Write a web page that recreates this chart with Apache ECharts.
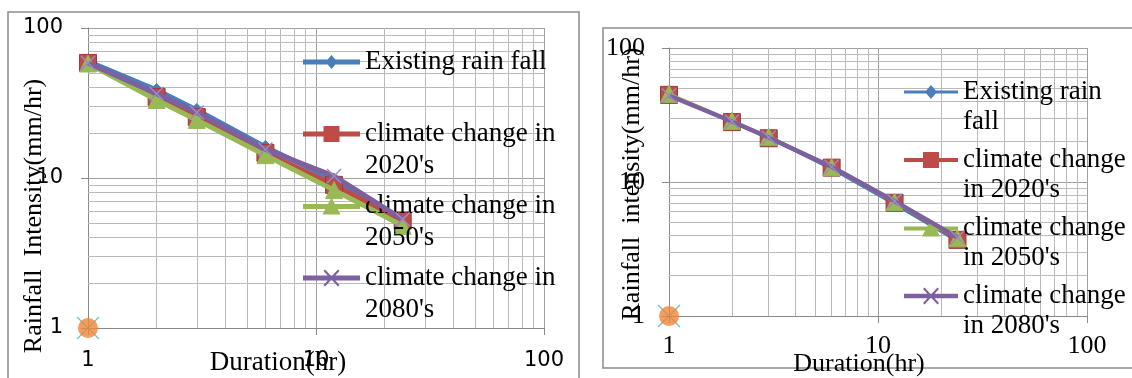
<!DOCTYPE html>
<html>
<head>
    <meta charset="utf-8">
    <title>Rainfall intensity - duration curves</title>
    <script src="https://cdn.jsdelivr.net/npm/echarts@6/dist/echarts.min.js"></script>
</head>
<body style="margin:0;background:#fff;">
    <div id="main" style="width:1132px;height:378px;"></div>
    <script type="text/javascript">
        // durations (hr) shared by both panels
        var durations = [1, 2, 3, 6, 12, 24];
        var minorTicks = [2, 3, 4, 5, 6, 7, 8, 9, 20, 30, 40, 50, 60, 70, 80, 90];
        var seriesNames = ['Existing rain fall', "climate change in 2020's", "climate change in 2050's", "climate change in 2080's"];

        // left panel intensities (mm/hr)
        var leftExisting = [60, 38.6, 28.4, 16.1, 9.7, 5.0];
        var left2020 = [58.5, 34.7, 25.5, 14.7, 9.0, 5.2];
        var left2050 = [58, 33.1, 24.4, 14.2, 8.3, 4.8];
        var left2080 = [58.5, 36.5, 27.3, 15.5, 10.3, 5.3];

        // right panel intensities (mm/hr)
        var rightExisting = [44.5, 28.3, 21.3, 12.5, 6.8, 3.6];
        var right2020 = [44.7, 28.0, 21.2, 12.8, 7.0, 3.7];
        var right2050 = [45.5, 28.6, 21.8, 12.9, 7.1, 3.8];
        var right2080 = [44.2, 28.3, 21.5, 13.0, 7.2, 3.85];

        // the stray point at (1, 1)
        var strayPoint = [[1, 1]];

        var leftLegendText = ['\nExisting rain fall\n', "\nclimate change in\n2020's", "\nclimate change in\n2050's", "\nclimate change in\n2080's"];
        var rightLegendText = ['\nExisting rain\nfall', "\nclimate change\nin 2020's", "\nclimate change\nin 2050's", "\nclimate change\nin 2080's"];

        var colors = ['#4a7ebb', '#be4b48', '#98b954', '#7d60a0'];
        var symbols = ['diamond', 'rect', 'triangle', 'path://M0,0L10,10M10,0L0,10'];
        var serif = '"Liberation Serif", "Times New Roman", serif';

        var dom = document.getElementById('main');
        var myChart = echarts.init(dom, null, { renderer: 'canvas' });

        function pairs(vals) {
            return durations.map(function (d, i) { return [d, vals[i]]; });
        }

        // legend icon: a line segment with the marker in the middle, in a w x 18 box
        function iconPath(w, lw, kind) {
            var c = w / 2;
            var p = 'path://M0,' + (9 - lw / 2) + 'H' + w + 'V' + (9 + lw / 2) + 'H0Z';
            if (kind === 0) {
                p += 'M' + c + ',2L' + (c + 6) + ',9L' + c + ',16L' + (c - 6) + ',9Z';
            } else if (kind === 1) {
                p += 'M' + (c - 8) + ',1H' + (c + 8) + 'V17H' + (c - 8) + 'Z';
            } else if (kind === 2) {
                p += 'M' + c + ',0L' + (c + 9) + ',17L' + (c - 9) + ',17Z';
            } else {
                p += 'M' + (c - 8) + ',2L' + (c - 6.5) + ',0.5L' + (c + 8) + ',16L' + (c + 6.5) + ',17.5Z';
                p += 'M' + (c + 6.5) + ',0.5L' + (c + 8) + ',2L' + (c - 6.5) + ',17.5L' + (c - 8) + ',16Z';
            }
            return p;
        }

        function makeLines(panel, valuesList, widths, suffix) {
            return valuesList.map(function (vals, i) {
                var isCross = i === 3;
                return {
                    name: seriesNames[i] + suffix,
                    type: 'line',
                    xAxisIndex: panel,
                    yAxisIndex: panel,
                    data: pairs(vals),
                    symbol: symbols[i],
                    symbolSize: isCross ? 14 : (i === 0 ? 13 : 17),
                    lineStyle: { color: colors[i], width: widths[i] },
                    itemStyle: isCross ? {
                        color: colors[i],
                        borderColor: '#9d89c0',
                        borderWidth: 1.5
                    } : {
                        color: colors[i],
                        borderColor: i === 1 ? '#9b3b39' : colors[i],
                        borderWidth: 1
                    },
                    emphasis: { disabled: true },
                    z: 3 + i
                };
            });
        }

        function gridLines(panel) {
            // cyan cross at (1,1) carries the minor log grid lines
            return {
                name: 'cross' + panel,
                type: 'scatter',
                xAxisIndex: panel,
                yAxisIndex: panel,
                data: strayPoint,
                symbol: 'path://M0,0L10,10M10,0L0,10',
                symbolSize: 22,
                itemStyle: { color: '#4bacc6', borderColor: '#4bacc6', borderWidth: 1.2 },
                z: 2,
                markLine: {
                    silent: true,
                    z: 1,
                    symbol: ['none', 'none'],
                    label: { show: false },
                    lineStyle: { color: '#bababa', width: 1, type: 'solid' },
                    emphasis: { disabled: true },
                    animation: false,
                    data: minorTicks.map(function (v) { return { xAxis: v }; })
                        .concat(minorTicks.map(function (v) { return { yAxis: v }; }))
                }
            };
        }

        function dot(panel) {
            return {
                name: 'dot' + panel,
                type: 'scatter',
                xAxisIndex: panel,
                yAxisIndex: panel,
                data: strayPoint,
                symbol: 'circle',
                symbolSize: 20,
                itemStyle: { color: '#ef8636' },
                z: 8
            };
        }

        function logAxis(panel, font, size, margin) {
            return {
                type: 'log',
                logBase: 10,
                gridIndex: panel,
                min: 1,
                max: 100,
                axisLine: { show: true, lineStyle: { color: '#8a8a8a', width: 1 } },
                axisTick: { show: true, inside: false, length: 7, lineStyle: { color: '#8a8a8a' } },
                splitLine: { show: true, lineStyle: { color: '#a0a0a0', width: 1 } },
                axisLabel: { color: '#000', fontFamily: font, fontSize: size, margin: margin }
            };
        }

        var series = [];
        series.push(gridLines(0));
        series = series.concat(makeLines(0, [leftExisting, left2020, left2050, left2080], [5, 5, 5, 5], ''));
        series.push(dot(0));
        series.push(gridLines(1));
        series = series.concat(makeLines(1, [rightExisting, right2020, right2050, right2080], [2.5, 2.5, 3, 4.5], ' '));
        series.push(dot(1));

        function legendFor(left, top, itemWidth, gap, lineHeight, texts, suffix, widths) {
            return {
                show: true,
                orient: 'vertical',
                left: left,
                top: top,
                padding: 0,
                z: 6,
                itemWidth: itemWidth,
                itemHeight: 18,
                itemGap: gap,
                selectedMode: false,
                data: seriesNames.map(function (n, i) {
                    return {
                        name: n + suffix,
                        icon: iconPath(itemWidth, widths[i], i),
                        itemStyle: { color: colors[i], borderWidth: 0 }
                    };
                }),
                formatter: function (name) {
                    return texts[seriesNames.indexOf(name.trim())];
                },
                textStyle: { color: '#000', fontFamily: serif, fontSize: 27, lineHeight: lineHeight }
            };
        }

        var titleStyle = function (text, size) {
            return { text: text, fontFamily: serif, fontSize: size, fill: '#000', align: 'center', verticalAlign: 'middle' };
        };

        var option = {
            animation: false,
            backgroundColor: '#fff',
            grid: [
                { left: 88, top: 28, width: 456, height: 300 },
                { left: 669, top: 48, width: 418, height: 268 }
            ],
            xAxis: [
                logAxis(0, '"DejaVu Sans", sans-serif', 21, 22),
                logAxis(1, serif, 26, 17)
            ],
            yAxis: [
                logAxis(0, '"DejaVu Sans", sans-serif', 21, 25),
                logAxis(1, serif, 26, 24)
            ],
            legend: [
                legendFor(303, 14, 57, -24, 32, leftLegendText, '', [5, 5, 5, 5]),
                legendFor(904, 47, 54, -22, 30, rightLegendText, ' ', [3, 4, 4, 4.5])
            ],
            graphic: [
                { type: 'rect', shape: { x: 8, y: 12, width: 571, height: 380 }, style: { fill: 'none', stroke: '#8c8c8c', lineWidth: 1.5 }, silent: true },
                { type: 'rect', shape: { x: 603, y: 28, width: 540, height: 340 }, style: { fill: 'none', stroke: '#8c8c8c', lineWidth: 1.5 }, silent: true },
                { type: 'text', x: 34, y: 216, rotation: Math.PI / 2, style: titleStyle('Rainfall  Intensity(mm/hr)', 26), silent: true, z: 10 },
                { type: 'text', x: 278, y: 363, style: titleStyle('Duration(hr)', 27), silent: true, z: 10 },
                { type: 'text', x: 632, y: 184, rotation: Math.PI / 2, style: titleStyle('Rainfall  intensity(mm/hr)', 26), silent: true, z: 10 },
                { type: 'text', x: 859, y: 364, style: titleStyle('Duration(hr)', 26), silent: true, z: 10 }
            ],
            series: series
        };

        if (option && typeof option === 'object') {
            myChart.setOption(option, true);
        }
    </script>
</body>
</html>
